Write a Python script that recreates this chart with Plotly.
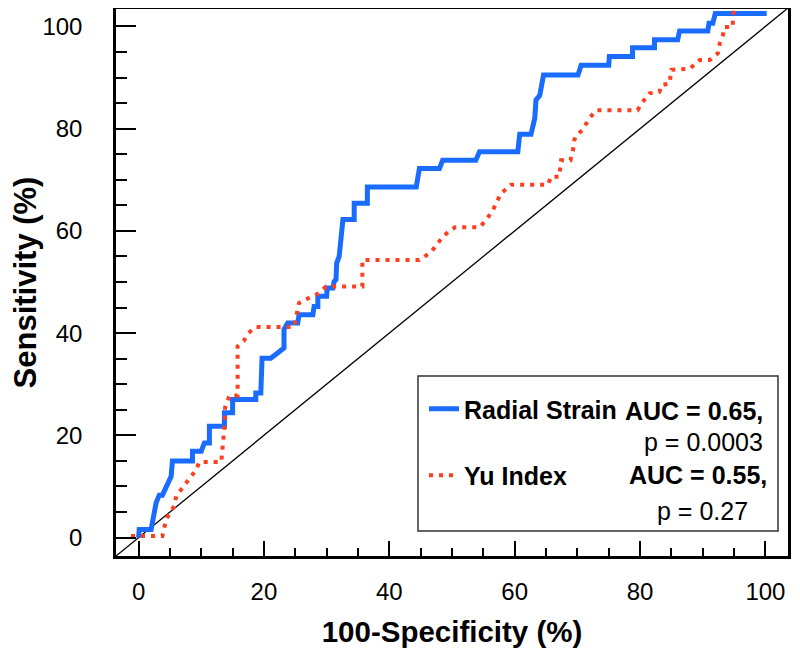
import plotly.graph_objects as go

# Radial Strain ROC curve (100-Specificity %, Sensitivity %)
radial_x = [0, 0.1, 2.0, 2.2, 2.8, 3.3, 3.8, 5.2, 5.4, 8.6, 8.6, 10.0, 10.5, 11.3, 11.3, 13.7, 13.7, 15.0,
            15.0, 18.7, 18.7, 19.5, 19.7, 21.1, 23.0, 23.2, 23.2, 23.8, 25.4, 25.6, 27.8, 28.0, 28.6, 28.6,
            30.0, 30.1, 31.0, 31.2, 31.5, 31.6, 32.0, 32.3, 32.6, 34.4, 34.4, 36.5, 36.5, 44.3, 44.8, 48.0,
            48.5, 53.8, 54.4, 60.5, 60.8, 62.6, 63.2, 63.4, 64.0, 64.6, 70.1, 70.6, 75.0, 75.1, 78.8, 78.8,
            82.3, 82.3, 86.0, 86.3, 90.8, 91.0, 91.6, 92.0, 100.2]
radial_y = [0, 1.6, 1.6, 3.2, 6.8, 8.3, 8.3, 12.0, 15.0, 15.0, 16.9, 16.9, 18.5, 18.5, 21.8, 21.8, 24.4, 24.4,
            27.0, 27.0, 28.3, 28.3, 35.1, 35.1, 37.1, 37.1, 40.7, 42.0, 42.0, 43.6, 43.6, 45.2, 45.2, 47.2,
            47.2, 48.8, 48.8, 50.1, 50.5, 53.7, 55.0, 60.2, 62.2, 62.2, 65.4, 65.4, 68.6, 68.6, 72.2, 72.2,
            73.8, 73.8, 75.5, 75.5, 78.9, 78.9, 82.0, 85.6, 86.5, 90.5, 90.5, 92.4, 92.4, 94.1, 94.1, 95.8,
            95.8, 97.4, 97.4, 99.1, 99.1, 100.6, 100.6, 102.5, 102.5]

# Yu Index ROC curve
yu_x = [-1.2, 3.8, 4.4, 5.7, 6.0, 7.0, 8.1, 9.2, 9.7, 13.2, 13.8, 13.8, 14.5, 15.8, 15.8, 16.8, 17.5, 18.7,
        24.8, 25.6, 26.5, 28.8, 29.9, 35.7, 35.7, 44.8, 46.7, 47.5, 48.5, 49.8, 50.5, 54.4, 55.5, 56.5,
        57.8, 59.4, 65.3, 65.8, 67.1, 67.4, 68.9, 69.3, 69.5, 69.8, 70.8, 71.9, 73.0, 79.6, 80.4, 81.5,
        83.1, 83.4, 84.7, 85.0, 87.9, 89.5, 91.1, 92.4, 92.7, 93.2, 93.5, 94.8, 94.8, 95.1]
yu_y = [0.3, 0.3, 3.6, 6.2, 8.1, 9.8, 11.4, 13.3, 14.8, 14.8, 23.1, 25.5, 27.8, 27.8, 37.4, 38.5, 40.0, 41.2,
        41.2, 45.9, 46.5, 47.8, 49.1, 49.1, 54.3, 54.3, 55.9, 57.2, 58.8, 60.2, 60.7, 60.7, 62.2, 64.0,
        67.3, 69.0, 69.0, 70.6, 70.6, 73.8, 73.8, 75.8, 77.7, 78.7, 79.7, 82.0, 83.6, 83.6, 85.2, 86.9,
        87.2, 88.5, 88.8, 91.5, 91.7, 93.4, 93.4, 94.7, 96.6, 98.2, 99.9, 99.9, 102.1, 103.4]

# chance line
ref_x = [-3.6, 103.6]
ref_y = [-3.6, 103.6]

tick_vals = [0, 20, 40, 60, 80, 100]
tick_text = ["0", "20", "40", "60", "80", "100"]

series_names = ["Radial Strain", "Yu Index"]
auc_text = ["AUC = 0.65,", "AUC = 0.55,"]
p_text = ["p = 0.0003", "p = 0.27"]

BLUE = "#1a6cff"
RED = "#ff3d1f"
FONT = "Liberation Sans, Arial, sans-serif"

fig = go.Figure()
fig.add_trace(go.Scatter(x=ref_x, y=ref_y, mode="lines", line=dict(color="black", width=1.3),
                         showlegend=False, hoverinfo="skip"))
fig.add_trace(go.Scatter(x=radial_x, y=radial_y, mode="lines", name="<b>" + series_names[0] + "</b>",
                         line=dict(color=BLUE, width=5), legendgroup="a"))
fig.add_trace(go.Scatter(x=yu_x, y=yu_y, mode="lines", name="<b>" + series_names[1] + "</b>",
                         line=dict(color=RED, width=4, dash="4px,6px"), legendgroup="b"))

axis_common = dict(
    showgrid=False, zeroline=False, showline=True, linecolor="black", linewidth=2.5, mirror=True,
    ticks="inside", tickcolor="black", tickwidth=2,
    tickvals=tick_vals, ticktext=tick_text,
    tickfont=dict(family=FONT, size=24, color="black"),
)

fig.update_xaxes(range=[-3.6, 103.6], ticklen=15, ticklabelstandoff=12,
                 minor=dict(dtick=5, tick0=0, ticks="inside", ticklen=8, tickwidth=1.5, tickcolor="black"),
                 title=dict(text="<b>100-Specificity (%)</b>", font=dict(family=FONT, size=29.5, color="black"),
                            standoff=18),
                 **axis_common)
fig.update_yaxes(range=[-3.6, 103.4], ticklen=20, ticklabelstandoff=26,
                 minor=dict(dtick=5, tick0=0, ticks="inside", ticklen=11, tickwidth=1.5, tickcolor="black"),
                 title=dict(text="<b>Sensitivity (%)</b>", font=dict(family=FONT, size=31, color="black"),
                            standoff=14),
                 **axis_common)

# page offset of the figure (browser body margin)
OFF = 8
L, R, T, B = 108, 20, 1, 106
W, H = 800, 654
pw, ph = W - L - R, H - T - B

def px(xp):
    return (xp - OFF - L) / pw

def py(yp):
    return (H - B - (yp - OFF)) / ph

# legend box
fig.add_shape(type="rect", xref="paper", yref="paper", x0=px(418), x1=px(778), y0=py(531), y1=py(376),
              line=dict(color="#333333", width=1.5), fillcolor="rgba(0,0,0,0)")

fig.update_layout(
    width=W, height=H,
    margin=dict(l=L, r=R, t=T, b=B, autoexpand=False),
    paper_bgcolor="white", plot_bgcolor="white",
    font=dict(family=FONT, color="black"),
    showlegend=True,
    legend=dict(x=px(424), y=py(386), xanchor="left", yanchor="top", bgcolor="rgba(0,0,0,0)",
                borderwidth=0, font=dict(family=FONT, size=25, color="black"),
                traceorder="grouped", tracegroupgap=31, itemwidth=30),
)

ann_style = dict(xref="paper", yref="paper", showarrow=False, xanchor="right", yanchor="middle",
                 font=dict(family=FONT, size=25, color="black"))
fig.add_annotation(x=px(765), y=py(411), text="<b>" + auc_text[0] + "</b>", **ann_style)
fig.add_annotation(x=px(765), y=py(442), text=p_text[0], **ann_style)
fig.add_annotation(x=px(769), y=py(475), text="<b>" + auc_text[1] + "</b>", **ann_style)
fig.add_annotation(x=px(750), y=py(511), text=p_text[1], **ann_style)

fig.write_html("out.html")
